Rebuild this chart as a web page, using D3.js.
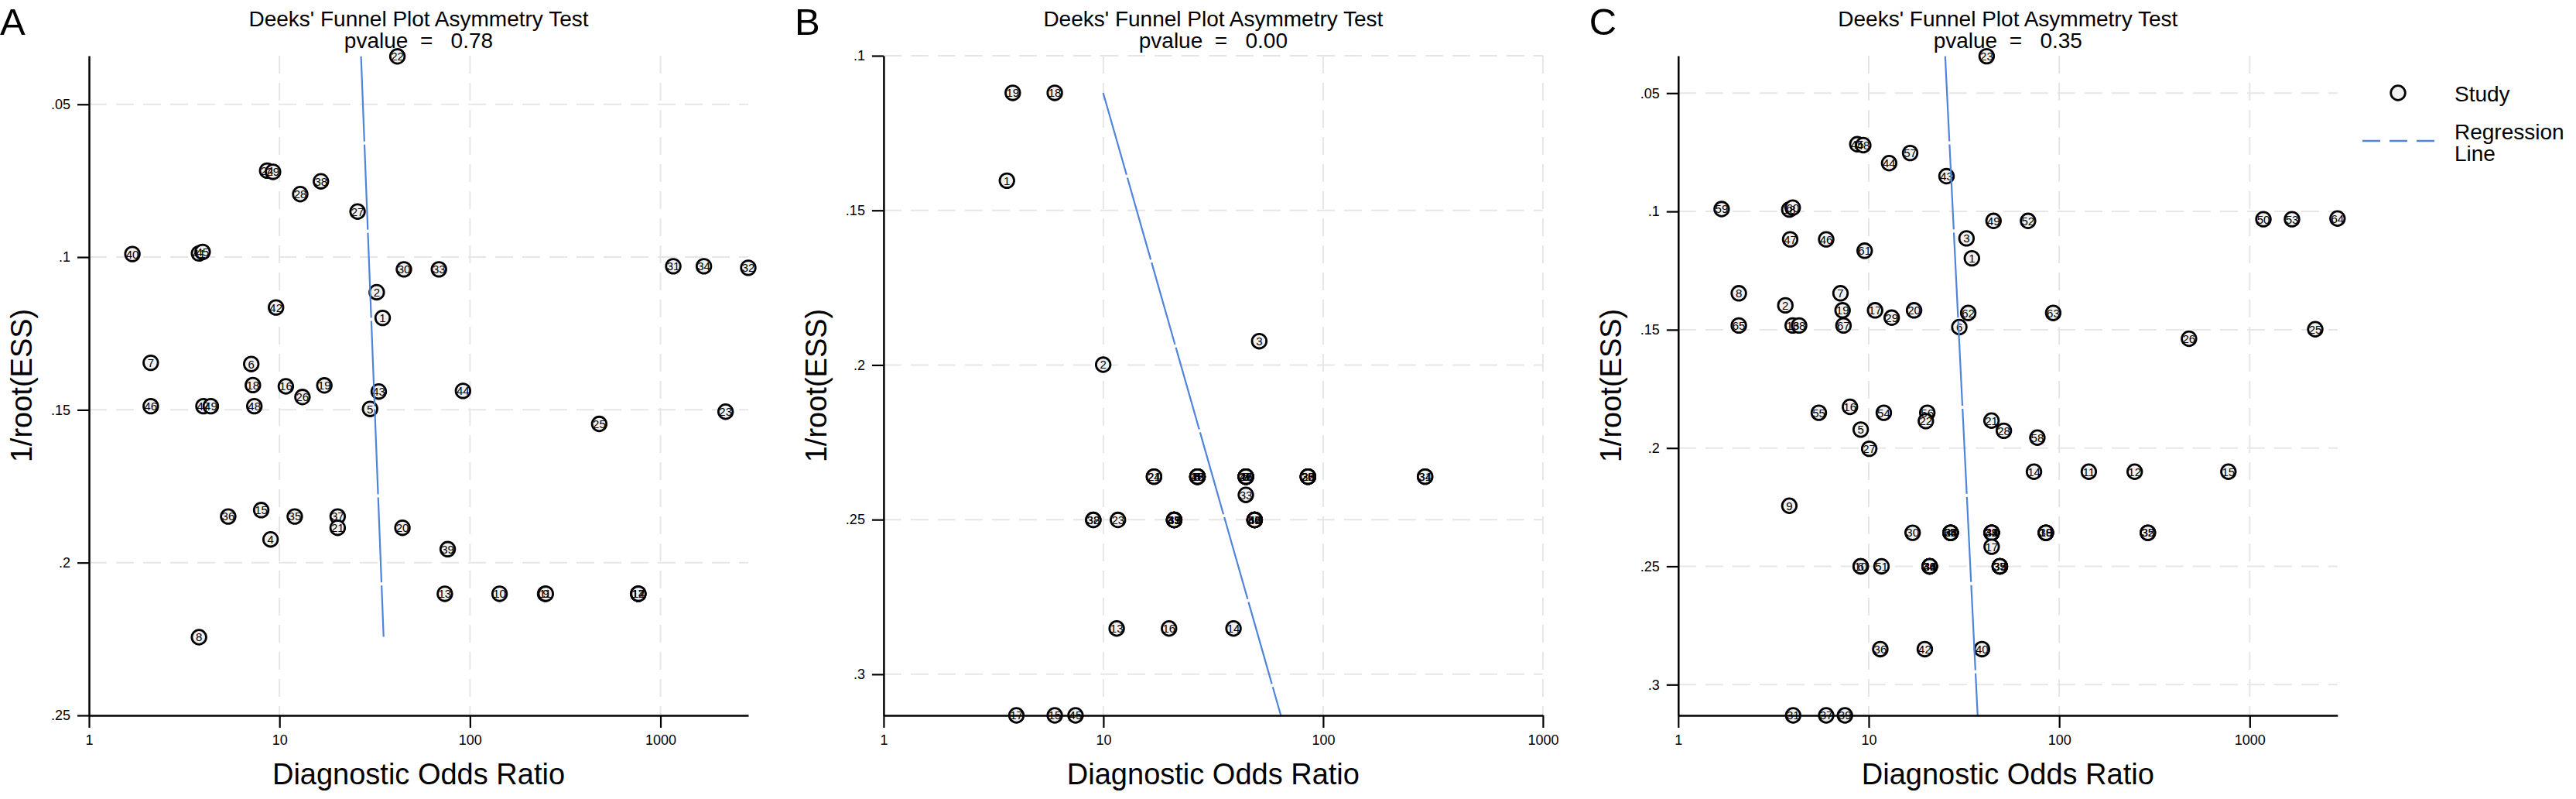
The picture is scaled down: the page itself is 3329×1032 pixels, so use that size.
<!DOCTYPE html>
<html lang="en">
<head>
<meta charset="UTF-8">
<title>Deeks' Funnel Plot Asymmetry Test</title>
<style>
  html, body { margin: 0; padding: 0; background: #fff; }
  svg text { font-family: "Liberation Sans", Arial, Helvetica, sans-serif; fill: #000; }
  .lbl { font-family: "Liberation Sans Narrow", "Arial Narrow", "Liberation Sans", Arial, sans-serif; }
</style>
</head>
<body>
<div id="chart"></div>
<script src="https://cdn.jsdelivr.net/npm/d3@7"></script>
<script>
// study label, diagnostic odds ratio, 1/root(ESS)
const studiesA = [
  ["22", 41.6, 0.0343], ["24", 8.62, 0.0717], ["29", 9.25, 0.0721], ["38", 16.5, 0.0752],
  ["28", 12.85, 0.0794], ["27", 25.7, 0.0851], ["40", 1.69, 0.0990], ["41", 3.78, 0.0988],
  ["45", 3.95, 0.0983], ["30", 45.0, 0.1040], ["33", 68.7, 0.1040], ["31", 1167, 0.1030],
  ["34", 1690, 0.1030], ["32", 2890, 0.1035], ["2", 32.4, 0.1115], ["42", 9.59, 0.1165],
  ["1", 34.8, 0.1199], ["7", 2.11, 0.1346], ["6", 7.11, 0.1350], ["18", 7.25, 0.1419],
  ["16", 10.8, 0.1423], ["19", 17.2, 0.1420], ["26", 13.2, 0.1458], ["43", 33.2, 0.1440],
  ["44", 91.9, 0.1438], ["46", 2.11, 0.1488], ["47", 3.99, 0.1488], ["49", 4.36, 0.1488],
  ["48", 7.38, 0.1488], ["5", 29.9, 0.1497], ["25", 477, 0.1546], ["23", 2197, 0.1506],
  ["36", 5.38, 0.1849], ["15", 8.02, 0.1828], ["35", 12.03, 0.1849], ["37", 20.2, 0.1849],
  ["21", 20.2, 0.1886], ["4", 8.98, 0.1924], ["20", 44.2, 0.1886], ["39", 76.4, 0.1956],
  ["13", 73.8, 0.2102], ["10", 143, 0.2102], ["11", 248, 0.2102], ["9", 250, 0.2102],
  ["12", 764, 0.2102], ["17", 764, 0.2102], ["14", 766, 0.2102], ["8", 3.78, 0.2244]
];

const studiesB = [
  ["19", 3.87, 0.1120], ["18", 6.01, 0.1120], ["1", 3.64, 0.1404], ["2", 9.98, 0.1999],
  ["3", 51.2, 0.1923],
  ["21", 17.0, 0.2361], ["24", 17.0, 0.2361],
  ["4", 26.8, 0.2361], ["6", 26.8, 0.2361], ["8", 26.8, 0.2361], ["10", 26.8, 0.2361], ["12", 26.8, 0.2361], ["26", 26.8, 0.2361], ["48", 26.8, 0.2361],
  ["5", 44.5, 0.2361], ["7", 44.5, 0.2361], ["9", 44.5, 0.2361], ["11", 44.5, 0.2361], ["27", 44.5, 0.2361], ["29", 44.5, 0.2361], ["46", 44.5, 0.2361],
  ["20", 85.3, 0.2361], ["22", 85.3, 0.2361], ["25", 85.3, 0.2361], ["28", 85.3, 0.2361], ["30", 85.3, 0.2361],
  ["31", 291, 0.2361], ["34", 291, 0.2361],
  ["33", 44.5, 0.2420],
  ["32", 9.0, 0.2501], ["38", 9.0, 0.2501], ["23", 11.65, 0.2501],
  ["35", 21.0, 0.2501], ["37", 21.0, 0.2501], ["39", 21.0, 0.2501], ["41", 21.0, 0.2501], ["43", 21.0, 0.2501], ["49", 21.0, 0.2501],
  ["36", 48.8, 0.2501], ["40", 48.8, 0.2501], ["42", 48.8, 0.2501], ["44", 48.8, 0.2501], ["47", 48.8, 0.2501], ["50", 48.8, 0.2501],
  ["13", 11.5, 0.2852], ["16", 19.9, 0.2852], ["14", 39.1, 0.2852],
  ["17", 4.02, 0.3133], ["15", 6.01, 0.3133], ["45", 7.47, 0.3133]
];

const studiesC = [
  ["23", 41.6, 0.0344], ["45", 8.71, 0.0716], ["48", 9.36, 0.0720], ["57", 16.5, 0.0753],
  ["44", 12.8, 0.0796], ["43", 25.6, 0.0851], ["59", 1.69, 0.0990], ["18", 3.83, 0.0992],
  ["60", 3.99, 0.0984], ["49", 45.2, 0.1040], ["52", 68.6, 0.1040], ["50", 1180, 0.1033],
  ["53", 1667, 0.1033], ["64", 2890, 0.1030], ["3", 32.6, 0.1114], ["47", 3.87, 0.1118],
  ["46", 5.98, 0.1118], ["61", 9.52, 0.1166], ["1", 34.8, 0.1198], ["8", 2.08, 0.1346],
  ["7", 7.11, 0.1346], ["2", 3.65, 0.1397], ["19", 7.29, 0.1418], ["17", 10.8, 0.1418],
  ["20", 17.3, 0.1418], ["29", 13.2, 0.1449], ["62", 33.3, 0.1429], ["63", 93.0, 0.1429],
  ["65", 2.08, 0.1482], ["13", 3.99, 0.1482], ["68", 4.31, 0.1482], ["67", 7.37, 0.1482],
  ["6", 29.9, 0.1489], ["26", 480, 0.1538], ["25", 2208, 0.1498],
  ["55", 5.47, 0.1851], ["16", 7.97, 0.1826], ["54", 12.0, 0.1851], ["56", 20.3, 0.1851],
  ["22", 19.95, 0.1886], ["5", 9.08, 0.1922], ["21", 44.1, 0.1884], ["28", 51.2, 0.1927],
  ["58", 76.8, 0.1956], ["27", 10.06, 0.2003],
  ["14", 73.7, 0.2100], ["11", 143, 0.2100], ["12", 249, 0.2100], ["15", 773, 0.2100],
  ["9", 3.83, 0.2244],
  ["30", 17.0, 0.2358],
  ["4", 26.9, 0.2358], ["24", 26.9, 0.2358], ["31", 26.9, 0.2358], ["38", 26.9, 0.2358], ["66", 26.9, 0.2358],
  ["33", 44.2, 0.2358], ["34", 44.2, 0.2358], ["41", 44.2, 0.2358], ["32", 44.2, 0.2358], ["39", 44.2, 0.2358],
  ["10", 85.1, 0.2358], ["39", 85.1, 0.2358], ["18", 85.1, 0.2358],
  ["32", 292, 0.2358], ["35", 292, 0.2358],
  ["17", 44.2, 0.2417],
  ["10", 9.08, 0.2500], ["6", 9.08, 0.2500], ["51", 11.67, 0.2500],
  ["34", 20.9, 0.2500], ["36", 20.9, 0.2500], ["38", 20.9, 0.2500], ["40", 20.9, 0.2500], ["41", 20.9, 0.2500],
  ["35", 48.8, 0.2500], ["37", 48.8, 0.2500], ["39", 48.8, 0.2500], ["33", 48.8, 0.2500],
  ["36", 11.5, 0.2850], ["42", 19.7, 0.2850], ["40", 39.3, 0.2850],
  ["31", 4.01, 0.3130], ["37", 5.98, 0.3130], ["39", 7.5, 0.3130]
];

// fitted regression line end points: DOR, 1/root(ESS)
const regA = [[26.8, 0.0343], [35.2, 0.2243]];
const regB = [[9.98, 0.1120], [64.2, 0.3133]];
const regC = [[25.2, 0.0344], [37.3, 0.3130]];

const panelLetters = ["A", "B", "C"];
const pvalues = ["0.78", "0.00", "0.35"];
const xMax = [2890, 1000, 2890];
const yDomains = [[0.0341, 0.25], [0.1, 0.3133], [0.0342, 0.3130]];
const yTicks = [[0.05, 0.1, 0.15, 0.2, 0.25], [0.1, 0.15, 0.2, 0.25, 0.3], [0.05, 0.1, 0.15, 0.2, 0.25, 0.3]];
const xTicks = [1, 10, 100, 1000];
const legendItems = ["Study", "Regression", "Line"];

const width = 3329, height = 1032;
const panelStep = 1026.9;
const plotLeft = 115, plotRight = 967, plotTop = 72, plotBottom = 924;
const lineColor = "#4f84dc";
const gridColor = "#e6e6e6";

const svg = d3.select("#chart").append("svg")
    .attr("width", width)
    .attr("height", height);

const studySets = [studiesA, studiesB, studiesC];
const regSets = [regA, regB, regC];

studySets.forEach(function (studies, i) {
  const g = svg.append("g").attr("transform", "translate(" + (i * panelStep) + ",0)");
  const x = d3.scaleLog().domain([1, xMax[i]]).range([plotLeft, plotRight]);
  const y = d3.scaleLinear().domain(yDomains[i]).range([plotTop, plotBottom]);

  // grid
  g.append("g").selectAll("line").data(yTicks[i].filter(t => y(t) < plotBottom - 4)).join("line")
      .attr("x1", plotLeft).attr("x2", plotRight)
      .attr("y1", d => y(d)).attr("y2", d => y(d))
      .attr("stroke", gridColor).attr("stroke-width", 2).attr("stroke-dasharray", "23,12");
  g.append("g").selectAll("line").data(xTicks.filter(t => t > 1)).join("line")
      .attr("x1", d => x(d)).attr("x2", d => x(d))
      .attr("y1", plotTop).attr("y2", plotBottom)
      .attr("stroke", gridColor).attr("stroke-width", 2).attr("stroke-dasharray", "23,12");

  // markers then labels
  g.append("g").selectAll("circle").data(studies).join("circle")
      .attr("cx", d => x(d[1])).attr("cy", d => y(d[2])).attr("r", 9.3)
      .attr("fill", "#f0f0f0").attr("stroke", "#000").attr("stroke-width", 2.8);
  g.append("g").selectAll("text").data(studies).join("text")
      .attr("class", "lbl")
      .attr("x", d => x(d[1])).attr("y", d => y(d[2]))
      .attr("dy", "0.36em").attr("text-anchor", "middle")
      .style("font-size", "15px")
      .text(d => d[0]);

  // regression line
  g.append("path").datum(regSets[i])
      .attr("d", d3.line().x(d => x(d[0])).y(d => y(d[1])))
      .attr("fill", "none").attr("stroke", lineColor).attr("stroke-width", 2.2)
      .attr("stroke-dasharray", "110,4");

  // axes
  const yAxis = g.append("g").attr("transform", "translate(" + plotLeft + ",0)")
      .call(d3.axisLeft(y).tickValues(yTicks[i]).tickSize(15).tickPadding(9).tickSizeOuter(0)
        .tickFormat(d => d3.format(".2~f")(d).replace(/^0/, "")));
  const xAxis = g.append("g").attr("transform", "translate(0," + plotBottom + ")")
      .call(d3.axisBottom(x).tickValues(xTicks).tickSize(16).tickPadding(9).tickSizeOuter(0)
        .tickFormat(d3.format("d")));
  [yAxis, xAxis].forEach(a => {
    a.select(".domain").attr("stroke", "#000").attr("stroke-width", 2.5);
    a.selectAll(".tick line").attr("stroke", "#000").attr("stroke-width", 2.2);
    a.selectAll(".tick text").style("font-size", "18px").style("font-family", "\"Liberation Sans\", Arial, sans-serif");
  });

  // titles
  const cx = (plotLeft + plotRight) / 2;
  g.append("text").attr("x", cx).attr("y", 34).attr("text-anchor", "middle")
      .style("font-size", "28px").text("Deeks' Funnel Plot Asymmetry Test");
  g.append("text").attr("x", cx).attr("y", 62).attr("text-anchor", "middle")
      .style("font-size", "28px").style("white-space", "pre")
      .text("pvalue  =   " + pvalues[i]);
  g.append("text").attr("x", 0).attr("y", 45)
      .style("font-size", "49px").text(panelLetters[i]);
  g.append("text").attr("transform", "translate(41," + ((plotTop + plotBottom) / 2) + ") rotate(-90)")
      .attr("text-anchor", "middle").style("font-size", "38px").text("1/root(ESS)");
  g.append("text").attr("x", cx).attr("y", 1013).attr("text-anchor", "middle")
      .style("font-size", "38px").text("Diagnostic Odds Ratio");
});

// legend
const lg = svg.append("g");
lg.append("circle").attr("cx", 3099).attr("cy", 120).attr("r", 9.3)
    .attr("fill", "#f0f0f0").attr("stroke", "#000").attr("stroke-width", 2.8);
lg.append("line").attr("x1", 3053).attr("x2", 3146).attr("y1", 182).attr("y2", 182)
    .attr("stroke", lineColor).attr("stroke-width", 2.5).attr("stroke-dasharray", "23,12");
lg.selectAll("text").data(legendItems).join("text")
    .attr("x", 3172).attr("y", (d, i) => [131, 180, 208][i])
    .style("font-size", "28px").text(d => d);
</script>
</body>
</html>
